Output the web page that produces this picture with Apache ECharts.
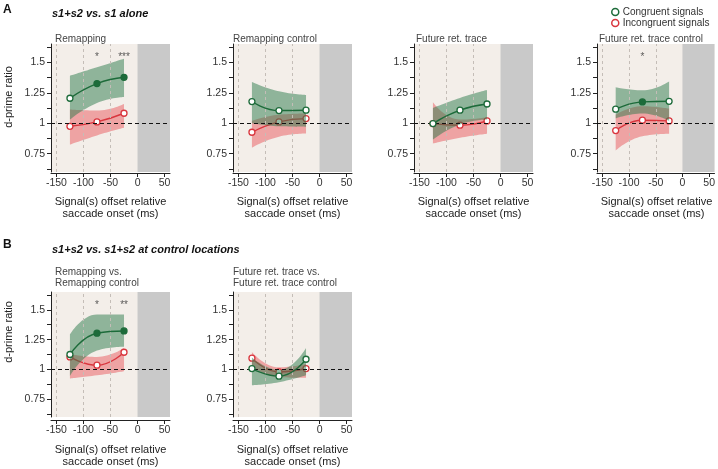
<!DOCTYPE html>
<html><head><meta charset="utf-8">
<script src="https://cdn.jsdelivr.net/npm/echarts@6/dist/echarts.min.js"></script>
<style>html,body{margin:0;padding:0;background:#fff}#c{width:718px;height:469px}</style>
</head><body><div id="c"></div>
<script>
// ---- data ----
const offsets = [-125, -75, -25];
const xTicks = [-150, -100, -50, 0, 50];
const yTicks = [0.625, 0.75, 0.875, 1, 1.125, 1.25, 1.375, 1.5, 1.625];
const yLabels = [0.75, 1, 1.25, 1.5];

// A1 Remapping
const remapCong = [1.205, 1.325, 1.377];
const remapCongHi = [1.39, 1.46, 1.53];
const remapCongLo = [1.03, 1.167, 1.216];
const remapCongSig = [false, true, true];
const remapInc = [0.975, 1.011, 1.082];
const remapIncHi = [1.112, 1.104, 1.158];
const remapIncLo = [0.825, 0.9, 0.962];
const remapStars = ['', '*', '***'];

// A2 Remapping control
const remapCtrlCong = [1.178, 1.104, 1.107];
const remapCtrlCongHi = [1.339, 1.262, 1.232];
const remapCtrlCongLo = [1.0, 0.975, 0.97];
const remapCtrlCongSig = [false, false, false];
const remapCtrlInc = [0.926, 1.011, 1.038];
const remapCtrlIncHi = [1.02, 1.07, 1.08];
const remapCtrlIncLo = [0.8, 0.89, 0.915];
const remapCtrlStars = ['', '', ''];

// A3 Future ret. trace
const futCong = [0.997, 1.107, 1.158];
const futCongHi = [1.126, 1.208, 1.273];
const futCongLo = [0.866, 0.99, 1.03];
const futCongSig = [false, false, false];
const futInc = [0.997, 0.984, 1.019];
const futIncHi = [1.172, 1.03, 1.05];
const futIncLo = [0.833, 0.88, 0.913];
const futStars = ['', '', ''];

// A4 Future ret. trace control
const futCtrlCong = [1.115, 1.175, 1.18];
const futCtrlCongHi = [1.295, 1.27, 1.342];
const futCtrlCongLo = [1.04, 1.08, 1.02];
const futCtrlCongSig = [false, true, false];
const futCtrlInc = [0.94, 1.025, 1.019];
const futCtrlIncHi = [1.07, 1.14, 1.12];
const futCtrlIncLo = [0.776, 0.893, 0.913];
const futCtrlStars = ['', '*', ''];

// B1 Remapping vs. Remapping control
const remapVsCong = [1.125, 1.304, 1.323];
const remapVsCongHi = [1.293, 1.461, 1.461];
const remapVsCongLo = [0.943, 1.158, 1.19];
const remapVsCongSig = [false, true, true];
const remapVsInc = [1.105, 1.035, 1.144];
const remapVsIncHi = [1.13, 1.105, 1.18];
const remapVsIncLo = [0.923, 0.95, 0.985];
const remapVsStars = ['', '*', '**'];

// B2 Future ret. trace vs. Future ret. trace control
const futVsCong = [1.007, 0.943, 1.085];
const futVsCongHi = [1.10, 0.995, 1.18];
const futVsCongLo = [0.867, 0.892, 0.95];
const futVsCongSig = [false, false, false];
const futVsInc = [1.094, 0.979, 1.007];
const futVsIncHi = [1.147, 1.018, 1.046];
const futVsIncLo = [1.027, 0.934, 0.929];
const futVsStars = ['', '', ''];

// ---- styling / layout ----
const FONT = '"Liberation Sans", Arial, Helvetica, sans-serif';
const GREEN = '#1d6b3a', RED = '#d9363e';
const GREEN_BAND = 'rgba(43,122,75,0.5)', RED_BAND = 'rgba(233,88,93,0.5)';
const BEIGE = '#f3eee9', GRAY = '#c9c9c9';
const STAR_Y = 1.54;

const panels = [
  {grid:{left:51, top:44, width:119, height:128}, xOff:1, cong:remapCong, congHi:remapCongHi, congLo:remapCongLo, sig:remapCongSig, inc:remapInc, incHi:remapIncHi, incLo:remapIncLo, stars:remapStars},
  {grid:{left:233, top:44, width:119, height:128}, xOff:1, cong:remapCtrlCong, congHi:remapCtrlCongHi, congLo:remapCtrlCongLo, sig:remapCtrlCongSig, inc:remapCtrlInc, incHi:remapCtrlIncHi, incLo:remapCtrlIncLo, stars:remapCtrlStars},
  {grid:{left:414, top:44, width:119, height:128}, xOff:1, cong:futCong, congHi:futCongHi, congLo:futCongLo, sig:futCongSig, inc:futInc, incHi:futIncHi, incLo:futIncLo, stars:futStars},
  {grid:{left:597, top:44, width:119, height:128}, xOff:1, cong:futCtrlCong, congHi:futCtrlCongHi, congLo:futCtrlCongLo, sig:futCtrlCongSig, inc:futCtrlInc, incHi:futCtrlIncHi, incLo:futCtrlIncLo, stars:futCtrlStars},
  {grid:{left:51, top:292, width:119, height:125}, xOff:3, cong:remapVsCong, congHi:remapVsCongHi, congLo:remapVsCongLo, sig:remapVsCongSig, inc:remapVsInc, incHi:remapVsIncHi, incLo:remapVsIncLo, stars:remapVsStars},
  {grid:{left:233, top:292, width:119, height:125}, xOff:3, cong:futVsCong, congHi:futVsCongHi, congLo:futVsCongLo, sig:futVsCongSig, inc:futVsInc, incHi:futVsIncHi, incLo:futVsIncLo, stars:futVsStars}
];

const grids = [], xAxes = [], yAxes = [], series = [];
panels.forEach((p, i) => {
  grids.push(Object.assign({show:true, backgroundColor:BEIGE, borderWidth:0, containLabel:false}, p.grid));
  xAxes.push({
    gridIndex:i, type:'value', min:-160, max:60, offset:p.xOff,
    axisLine:{show:true, onZero:false, lineStyle:{color:'#222', width:1}},
    axisTick:{show:true, length:4, customValues:xTicks, lineStyle:{color:'#222'}},
    axisLabel:{customValues:xTicks, fontSize:10.5, color:'#333', margin:5, fontFamily:FONT},
    splitLine:{show:false}
  });
  yAxes.push({
    gridIndex:i, type:'value', min:0.6, max:1.65,
    axisLine:{show:true, onZero:false, lineStyle:{color:'#222', width:1}},
    axisTick:{show:true, length:4, customValues:yTicks, lineStyle:{color:'#222'}},
    axisLabel:{customValues:yLabels, fontSize:10.5, color:'#333', margin:6, fontFamily:FONT},
    splitLine:{show:false}
  });
  const ax = {xAxisIndex:i, yAxisIndex:i};
  // background marks
  series.push(Object.assign({
    type:'line', data:[], silent:true, z:1,
    markArea:{silent:true, itemStyle:{color:GRAY}, data:[[{xAxis:0},{xAxis:60}]]},
    markLine:{silent:true, symbol:'none', label:{show:false},
      lineStyle:{color:'#c4bdb7', type:[3,3], width:1},
      data:[{xAxis:-150},{xAxis:-100},{xAxis:-50}]}
  }, ax));
  // band: lower bound + stacked width; value in column 0 so that stacking acts on y
  const band = (lo, hi, color, key, z) => {
    series.push(Object.assign({type:'line', stack:key+i, smooth:true, symbol:'none', silent:true, z:z,
      encode:{x:1, y:0}, lineStyle:{width:0},
      data:offsets.map((x,k)=>[lo[k], x])}, ax));
    series.push(Object.assign({type:'line', stack:key+i, smooth:true, symbol:'none', silent:true, z:z,
      encode:{x:1, y:0}, lineStyle:{width:0}, areaStyle:{color:color, opacity:1},
      data:offsets.map((x,k)=>[hi[k]-lo[k], x])}, ax));
  };
  const line = (vals, sig, color, name, z) => {
    series.push(Object.assign({type:'line', name:name, smooth:true, symbol:'circle', symbolSize:6, z:z,
      lineStyle:{color:color, width:1.4},
      itemStyle:{color:'#fff', borderColor:color, borderWidth:1.3},
      data:offsets.map((x,k)=>({value:[x, vals[k]], itemStyle:{color: sig && sig[k] ? color : '#fff', borderColor:color}}))}, ax));
  };
  band(p.incLo, p.incHi, RED_BAND, 'inc', 2);
  line(p.inc, null, RED, 'Incongruent signals', 3);
  band(p.congLo, p.congHi, GREEN_BAND, 'cong', 4);
  series.push(Object.assign({type:'line', data:[], silent:true, z:5,
    markLine:{silent:true, symbol:'none', label:{show:false},
      lineStyle:{color:'#111', type:[4,3], width:1.2}, data:[{yAxis:1}]}}, ax));
  line(p.cong, p.sig, GREEN, 'Congruent signals', 6);
  series.push(Object.assign({type:'scatter', symbolSize:0, silent:true, z:7,
    label:{show:true, position:'inside', formatter:(d)=>d.name, fontSize:10, color:'#333', fontFamily:FONT},
    data:offsets.map((x,k)=>({value:[x, STAR_Y], name:p.stars[k]})).filter(d=>d.name)}, ax));
});

const txt = (x, y, text, extra) => ({type:'text', silent:true, style:Object.assign({x:x, y:y, text:text, fontFamily:FONT, fontSize:10, fill:'#444', align:'left', verticalAlign:'middle'}, extra||{})});
const graphic = [
  txt(3, 10, 'A', {fontSize:12, fontWeight:'bold', fill:'#111'}),
  txt(52, 14, 's1+s2 vs. s1 alone', {fontSize:11, fontWeight:'bold', fontStyle:'italic', fill:'#111'}),
  txt(3, 245, 'B', {fontSize:12, fontWeight:'bold', fill:'#111'}),
  txt(52, 249.5, 's1+s2 vs. s1+s2 at control locations', {fontSize:11, fontWeight:'bold', fontStyle:'italic', fill:'#111'}),
  txt(55, 39, 'Remapping'),
  txt(233, 39, 'Remapping control'),
  txt(416, 39, 'Future ret. trace'),
  txt(599, 39, 'Future ret. trace control'),
  txt(55, 272.7, 'Remapping vs.'),
  txt(55, 283.5, 'Remapping control'),
  txt(233, 272.7, 'Future ret. trace vs.'),
  txt(233, 283.5, 'Future ret. trace control')
];
const axisNameCenters = [[110.5, 201.7], [292.5, 201.7], [473.5, 201.7], [656.5, 201.7], [110.5, 450], [292.5, 450]];
axisNameCenters.forEach(c => {
  graphic.push(txt(c[0], c[1], 'Signal(s) offset relative', {fontSize:11, fill:'#222', align:'center'}));
  graphic.push(txt(c[0], c[1] + 12, 'saccade onset (ms)', {fontSize:11, fill:'#222', align:'center'}));
});
[[9, 97], [9, 332]].forEach(c => {
  graphic.push({type:'text', silent:true, x:c[0], y:c[1], rotation:Math.PI/2,
    style:{x:0, y:0, text:'d-prime ratio', fontFamily:FONT, fontSize:11, fill:'#222', align:'center', verticalAlign:'middle'}});
});

const chart = echarts.init(document.getElementById('c'), null, {renderer:'canvas'});
chart.setOption({
  animation:false,
  backgroundColor:'#fff',
  textStyle:{fontFamily:FONT},
  grid:grids, xAxis:xAxes, yAxis:yAxes, series:series,
  legend:{
    show:true, orient:'vertical', left:611, top:7, padding:0, itemGap:1, selectedMode:false,
    itemWidth:7, itemHeight:7, icon:'circle',
    textStyle:{fontSize:10, color:'#333', fontFamily:FONT, lineHeight:10, padding:[0,0,0,-1]},
    data:[
      {name:'Congruent signals', itemStyle:{color:'#fff', borderColor:GREEN, borderWidth:1.5}},
      {name:'Incongruent signals', itemStyle:{color:'#fff', borderColor:RED, borderWidth:1.5}}
    ]
  },
  graphic:graphic
});
</script></body></html>
